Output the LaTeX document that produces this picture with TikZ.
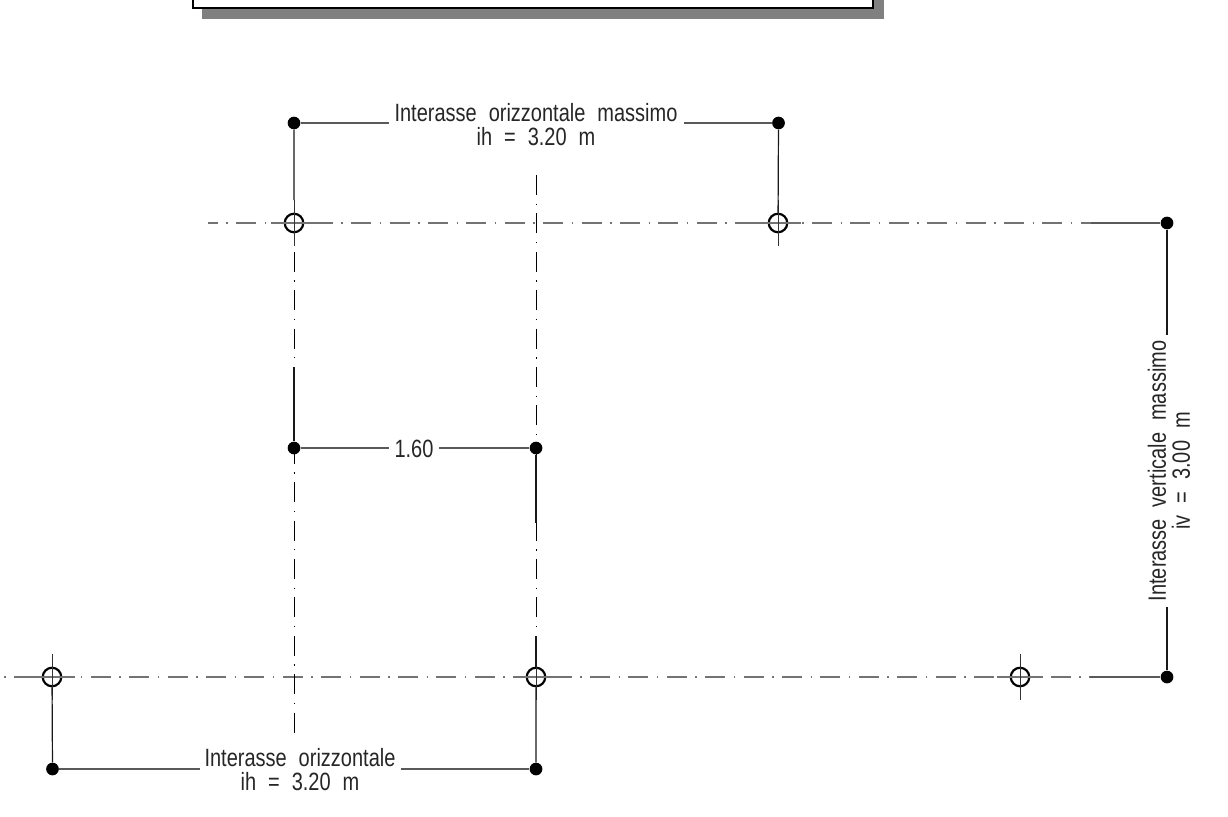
\documentclass[tikz,border=0pt]{standalone}
\usepackage{fontspec}
\setmainfont[FakeStretch=0.8,WordSpace=2.15]{Liberation Sans}
\tikzset{
  x=1pt,y=-1pt,
  dot/.style={circle,fill=black,draw=none,minimum size=12.7pt,inner sep=0pt},
  hole/.style={circle,draw=black,line width=2.2pt,fill=none,minimum size=18.5pt,inner sep=0pt},
  hdash/.style={line width=1.7pt,draw=black!55,dash pattern=on 20pt off 8.6pt on 1.3pt off 8.5pt},
  vdash/.style={line width=1pt,draw=black,dash pattern=on 20pt off 8.6pt on 1.3pt off 8.5pt},
  hsolid/.style={line width=1.6pt,draw=black!65},
  hcross/.style={line width=1.6pt,draw=black!55},
  vsolid/.style={line width=1.2pt,draw=black!90},
  vcross/.style={line width=1pt,draw=black!80},
  lab/.style={font=\fontsize{25}{24}\selectfont,align=center,inner sep=0pt,text=black!85},
}
\begin{document}
\begin{tikzpicture}
\useasboundingbox (0,0) rectangle (1228,816);
% title box
\fill[black!50] (202,-10) rectangle (884,19);
\draw[line width=2pt,fill=white] (192.5,-10) rectangle (873,8.5);
% named points
\coordinate (aL) at (3,677);
\coordinate (aTL) at (207.5,223);
\coordinate (aTR) at (1091,223);
\coordinate (aBR) at (1089.5,677);
\coordinate (v1t) at (294,251.7);
\coordinate (v1b) at (294,733);
\coordinate (v2t) at (536,175);
\coordinate (v2b) at (536,636);
\coordinate (v1s) at (294,366.7);
\coordinate (v1u) at (294,200);
\coordinate (v2s) at (536,523);
% axes
\draw[hdash,dash phase=27.4pt] (aL) -- (aBR);
\draw[hdash,dash phase=9.9pt] (aTL) -- (aTR);
\draw[vdash] (v1t) -- (v1b);
\draw[vdash] (v2t) -- (v2b);
% circles
\node[hole] (c1) at (294,223) {};
\node[hole] (c2) at (778,223) {};
\node[hole] (c3) at (52,677) {};
\node[hole] (c4) at (536,677) {};
\node[hole] (c5) at (1020,677) {};
% centre crosses
\foreach \c in {c1,c2,c3,c4,c5}{
  \draw[hcross] ([xshift=-23pt]\c.center) -- ([xshift=23pt]\c.center);
  \draw[vcross] ([yshift=-23pt]\c.center) -- ([yshift=23pt]\c.center);
}
% dots
\node[dot] (d1) at (294,123) {};
\node[dot] (d2) at (778.5,123) {};
\node[dot] (d3) at (1167,223) {};
\node[dot] (d4) at (1167,677) {};
\node[dot] (d5) at (294,448) {};
\node[dot] (d6) at (536,448) {};
\node[dot] (d7) at (52.5,769) {};
\node[dot] (d8) at (536,769) {};
% labels
\node[lab] (l1) at (536,125) {Interasse orizzontale massimo\\ih = 3.20 m};
\node[lab] (l2) at (414,449) {1.60};
\node[lab] (l3) at (300,770) {Interasse orizzontale\\ih = 3.20 m};
\node[lab,rotate=90] (l4) at (1169,471) {Interasse verticale massimo\\iv = 3.00 m};
\coordinate (g1a) at (389,123); \coordinate (g1b) at (684,123);
\coordinate (g2a) at (389,448); \coordinate (g2b) at (439,448);
\coordinate (g3a) at (200,769); \coordinate (g3b) at (401,769);
\coordinate (g4a) at (1167,335); \coordinate (g4b) at (1167,607);
% connectors
\draw[hsolid] (d1) -- (g1a) (d2) -- (g1b);
\draw[hsolid] (d5) -- (g2a) (d6) -- (g2b);
\draw[hsolid] (d7) -- (g3a) (d8) -- (g3b);
\draw[hsolid] (d3) -- (aTR) (d4) -- (aBR);
\draw[vsolid] (d3) -- (g4a) (d4) -- (g4b);
\draw[vsolid] (d1) -- (v1u) (d2) -- (c2);
\draw[vsolid] (c3) -- (d7) (c4) -- (d8);
\draw[vsolid] (d5) -- (v1s) (d6) -- (v2s) (v2b) -- (c4);
\end{tikzpicture}
\end{document}
